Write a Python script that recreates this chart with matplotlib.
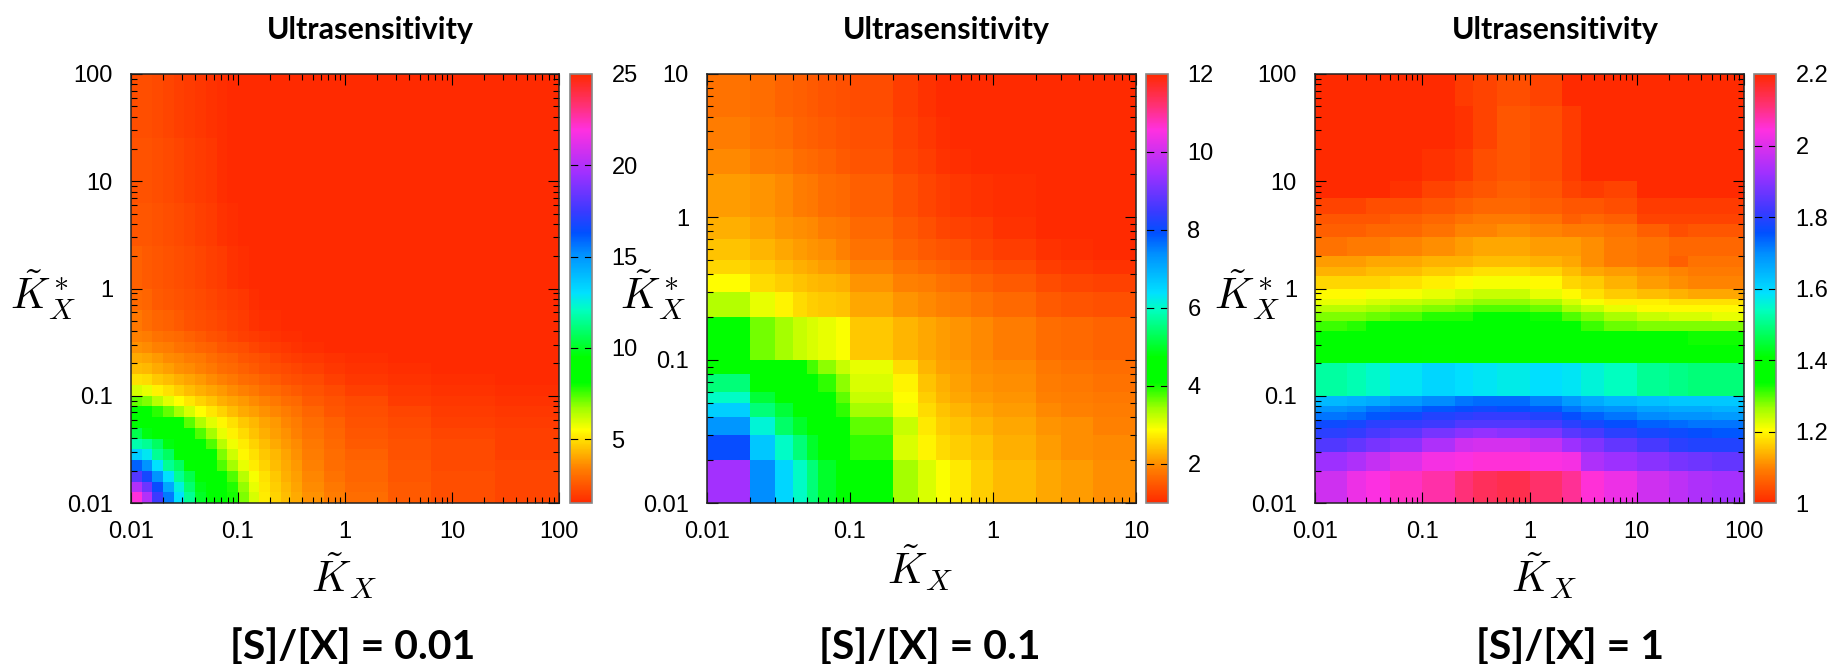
import matplotlib
matplotlib.use("Agg")
import matplotlib.pyplot as plt
from matplotlib.colors import LinearSegmentedColormap
from matplotlib.ticker import LogLocator, NullFormatter

plt.rcParams['font.family'] = ['Liberation Sans', 'DejaVu Sans']
plt.rcParams['mathtext.fontset'] = 'cm'

W, H = 1843, 664

# panel 1, [S]/[X] = 0.01
edges_a = [0.01, 0.0126, 0.0158, 0.02, 0.0251, 0.0316, 0.0398, 0.0501, 0.0631, 0.0794, 0.1, 0.126, 0.158, 0.2, 0.251,
           0.316, 0.398, 0.631, 1, 2.51, 6.31, 25.1, 100]
vals_a = [
    [22, 20, 17.5, 15.5, 13, 11.5, 10, 9.3, 8.8, 7.9, 7, 6, 5.2, 4.8, 4.4, 4.1, 3.7, 3.3, 3, 2.6, 2.3, 2.1],
    [20, 18.5, 16.5, 14.5, 12.5, 11, 9.8, 9.2, 8.7, 7.8, 6.8, 5.8, 5.1, 4.7, 4.3, 4, 3.6, 3.2, 2.9, 2.6, 2.3, 2.1],
    [18, 16.7, 15, 13, 11.5, 10.5, 9.5, 8.8, 8.3, 7.4, 6.4, 5.6, 5, 4.6, 4.2, 3.9, 3.5, 3.1, 2.8, 2.5, 2.3, 2.1],
    [16, 15, 13, 11.5, 10.8, 9.5, 9, 8.6, 7.4, 6.6, 5.8, 5.2, 4.8, 4.4, 4.1, 3.8, 3.4, 3, 2.8, 2.5, 2.2, 2.1],
    [13.5, 12.8, 11.5, 10.8, 9.5, 9, 8.6, 8.2, 7, 6.1, 5.4, 5, 4.6, 4.3, 4, 3.7, 3.3, 3, 2.7, 2.4, 2.2, 2],
    [11.8, 11.5, 10.8, 9.7, 9.2, 8.8, 8.4, 7.4, 6.4, 5.7, 5.2, 4.8, 4.4, 4.1, 3.8, 3.6, 3.2, 2.9, 2.6, 2.4, 2.2, 2],
    [10.5, 9.7, 9.3, 9, 8.7, 8.4, 7.4, 6.6, 5.8, 5.3, 4.9, 4.5, 4.2, 3.9, 3.7, 3.4, 3.1, 2.8, 2.5, 2.3, 2.1, 2],
    [9.5, 9.2, 8.9, 8.6, 8.3, 7.3, 6.5, 5.9, 5.4, 5, 4.6, 4.3, 4, 3.8, 3.5, 3.3, 3, 2.7, 2.4, 2.2, 2, 1.9],
    [8.9, 8.7, 7.7, 7.2, 6.6, 6, 5.5, 5.1, 4.8, 4.4, 4.1, 3.9, 3.7, 3.5, 3.3, 3.1, 2.8, 2.5, 2.3, 2.1, 1.9, 1.8],
    [7.2, 7, 6.4, 5.9, 5.5, 5.1, 4.8, 4.5, 4.2, 4, 3.8, 3.6, 3.4, 3.2, 3, 2.9, 2.6, 2.4, 2.2, 1.9, 1.8, 1.7],
    [6, 5.8, 5.3, 5, 4.7, 4.4, 4.2, 4, 3.8, 3.6, 3.4, 3.2, 3, 2.9, 2.7, 2.6, 2.4, 2.2, 2, 1.8, 1.7, 1.6],
    [5, 4.9, 4.6, 4.4, 4.2, 4, 3.8, 3.6, 3.4, 3.2, 3, 2.9, 2.7, 2.6, 2.4, 2.3, 2.2, 2, 1.8, 1.7, 1.6, 1.5],
    [4.4, 4.3, 4.1, 3.9, 3.7, 3.6, 3.4, 3.2, 3, 2.9, 2.7, 2.6, 2.4, 2.3, 2.2, 2.1, 2, 1.8, 1.7, 1.6, 1.5, 1.5],
    [4.1, 4, 3.8, 3.6, 3.5, 3.3, 3.2, 3, 2.8, 2.7, 2.5, 2.4, 2.3, 2.1, 2, 1.9, 1.8, 1.7, 1.6, 1.5, 1.5, 1.5],
    [3.7, 3.6, 3.4, 3.3, 3.1, 3, 2.8, 2.7, 2.5, 2.4, 2.3, 2.1, 2, 1.9, 1.8, 1.7, 1.6, 1.5, 1.5, 1.5, 1.5, 1.5],
    [3.4, 3.3, 3.1, 3, 2.9, 2.7, 2.6, 2.4, 2.3, 2.1, 2, 1.9, 1.8, 1.7, 1.6, 1.6, 1.5, 1.5, 1.5, 1.5, 1.5, 1.5],
    [3.2, 3, 2.8, 2.7, 2.6, 2.4, 2.3, 2.2, 2.1, 2, 1.9, 1.7, 1.6, 1.6, 1.5, 1.5, 1.5, 1.5, 1.5, 1.5, 1.5, 1.5],
    [2.9, 2.8, 2.6, 2.5, 2.4, 2.3, 2.2, 2.1, 2, 1.9, 1.8, 1.6, 1.5, 1.5, 1.5, 1.5, 1.5, 1.5, 1.5, 1.5, 1.5, 1.5],
    [2.7, 2.6, 2.5, 2.4, 2.3, 2.2, 2.1, 2, 1.9, 1.7, 1.6, 1.5, 1.5, 1.5, 1.5, 1.5, 1.5, 1.5, 1.5, 1.5, 1.5, 1.5],
    [2.5, 2.5, 2.4, 2.3, 2.2, 2.1, 2, 1.9, 1.7, 1.6, 1.5, 1.5, 1.5, 1.5, 1.5, 1.5, 1.5, 1.5, 1.5, 1.5, 1.5, 1.5],
    [2.4, 2.4, 2.3, 2.2, 2.1, 2, 1.9, 1.8, 1.6, 1.5, 1.5, 1.5, 1.5, 1.5, 1.5, 1.5, 1.5, 1.5, 1.5, 1.5, 1.5, 1.5],
    [2.3, 2.3, 2.2, 2.1, 2, 1.9, 1.8, 1.7, 1.6, 1.5, 1.5, 1.5, 1.5, 1.5, 1.5, 1.5, 1.5, 1.5, 1.5, 1.5, 1.5, 1.5],
]

# panel 2, [S]/[X] = 0.1
edges_b = [0.01, 0.02, 0.03, 0.04, 0.05, 0.06, 0.08, 0.1, 0.2, 0.3, 0.4, 0.5, 0.7, 1, 2, 3, 5, 10]
vals_b = [
    [9.5, 7.4, 6.5, 6, 5.5, 5, 4.5, 4.3, 3.4, 3.1, 2.9, 2.7, 2.5, 2.35, 2.2, 2.1, 2],
    [8, 6.7, 6, 5.5, 5, 4.5, 4.3, 3.9, 3.1, 2.8, 2.6, 2.5, 2.4, 2.25, 2.1, 2, 1.95],
    [7.3, 6.1, 5.4, 5, 4.5, 4.3, 4.2, 3.7, 3.2, 2.7, 2.5, 2.4, 2.3, 2.2, 2.05, 2, 1.9],
    [6.6, 5.5, 5.1, 4.5, 4.3, 4.2, 3.9, 3.4, 2.95, 2.6, 2.4, 2.3, 2.2, 2.1, 1.95, 1.9, 1.85],
    [6, 5.1, 4.5, 4.3, 4.2, 4.1, 3.7, 3.2, 2.85, 2.5, 2.3, 2.2, 2.1, 2.05, 1.9, 1.85, 1.8],
    [5.5, 4.5, 4.3, 4.2, 4.1, 3.9, 3.5, 3.1, 2.8, 2.4, 2.25, 2.15, 2.05, 2, 1.85, 1.8, 1.75],
    [4.7, 4.3, 4.2, 4.1, 3.8, 3.5, 3.2, 3, 2.6, 2.3, 2.15, 2.1, 2, 1.95, 1.8, 1.75, 1.7],
    [4.2, 3.6, 3.4, 3.2, 3.1, 3, 2.9, 2.45, 2.3, 2.2, 2.1, 2.05, 1.95, 1.85, 1.7, 1.65, 1.6],
    [3.3, 3, 2.8, 2.6, 2.5, 2.45, 2.4, 2.2, 2.05, 1.95, 1.9, 1.85, 1.75, 1.65, 1.5, 1.45, 1.4],
    [2.85, 2.6, 2.5, 2.4, 2.35, 2.3, 2.25, 2.05, 1.9, 1.85, 1.75, 1.7, 1.6, 1.5, 1.35, 1.3, 1.25],
    [2.55, 2.45, 2.35, 2.25, 2.2, 2.1, 2.05, 1.9, 1.75, 1.65, 1.6, 1.5, 1.45, 1.35, 1.2, 1.15, 1.1],
    [2.4, 2.3, 2.2, 2.1, 2.05, 2, 1.9, 1.75, 1.6, 1.5, 1.45, 1.4, 1.3, 1.2, 1.1, 1.05, 1],
    [2.25, 2.15, 2.05, 2, 1.95, 1.85, 1.8, 1.65, 1.5, 1.4, 1.3, 1.25, 1.2, 1.1, 1, 1, 1],
    [2.1, 2.05, 1.95, 1.85, 1.8, 1.7, 1.65, 1.55, 1.4, 1.3, 1.2, 1.15, 1.1, 1.05, 1, 1, 1],
    [1.95, 1.85, 1.8, 1.7, 1.65, 1.6, 1.5, 1.45, 1.3, 1.2, 1.1, 1.05, 1, 1, 1, 1, 1],
    [1.85, 1.75, 1.7, 1.6, 1.55, 1.5, 1.45, 1.4, 1.25, 1.15, 1.05, 1, 1, 1, 1, 1, 1],
    [1.75, 1.7, 1.6, 1.55, 1.5, 1.45, 1.4, 1.35, 1.2, 1.1, 1, 1, 1, 1, 1, 1, 1],
]

# panel 3, [S]/[X] = 1
xedges_c = [0.01, 0.02, 0.03, 0.05, 0.1, 0.2, 0.3, 0.5, 1, 2, 3, 5, 10, 20, 30, 50, 100]
yedges_c = [0.01, 0.02, 0.03, 0.04, 0.05, 0.06, 0.07, 0.08, 0.1, 0.2, 0.3, 0.4, 0.5, 0.6, 0.7, 0.8, 1, 1.3, 1.6, 2,
            3, 4, 5, 7, 10, 20, 50, 100]
vals_c = [
    [1.98, 2.02, 2.04, 2.06, 2.08, 2.11, 2.13, 2.14, 2.12, 2.09, 2.05, 2.02, 1.98, 1.96, 1.94, 1.93],
    [1.92, 1.94, 1.97, 2, 2.03, 2.04, 2.05, 2.05, 2.04, 2.03, 1.94, 1.92, 1.9, 1.88, 1.87, 1.86],
    [1.84, 1.86, 1.88, 1.9, 1.94, 1.98, 1.99, 1.99, 1.97, 1.92, 1.89, 1.86, 1.83, 1.8, 1.79, 1.79],
    [1.8, 1.81, 1.83, 1.85, 1.88, 1.9, 1.91, 1.9, 1.89, 1.85, 1.83, 1.8, 1.78, 1.77, 1.76, 1.75],
    [1.77, 1.78, 1.8, 1.81, 1.82, 1.84, 1.84, 1.84, 1.83, 1.8, 1.78, 1.76, 1.74, 1.73, 1.72, 1.72],
    [1.72, 1.73, 1.75, 1.77, 1.79, 1.8, 1.81, 1.81, 1.79, 1.76, 1.74, 1.72, 1.7, 1.69, 1.69, 1.68],
    [1.69, 1.7, 1.72, 1.73, 1.75, 1.76, 1.77, 1.76, 1.75, 1.72, 1.7, 1.69, 1.67, 1.66, 1.66, 1.65],
    [1.64, 1.65, 1.66, 1.68, 1.7, 1.72, 1.73, 1.73, 1.71, 1.68, 1.66, 1.64, 1.63, 1.62, 1.62, 1.62],
    [1.52, 1.53, 1.55, 1.58, 1.6, 1.59, 1.58, 1.57, 1.59, 1.58, 1.56, 1.54, 1.51, 1.5, 1.49, 1.49],
    [1.37, 1.37, 1.37, 1.38, 1.41, 1.4, 1.4, 1.4, 1.4, 1.39, 1.38, 1.37, 1.36, 1.36, 1.36, 1.36],
    [1.36, 1.36, 1.36, 1.36, 1.36, 1.36, 1.36, 1.36, 1.36, 1.36, 1.36, 1.36, 1.36, 1.36, 1.33, 1.33],
    [1.31, 1.32, 1.34, 1.35, 1.36, 1.36, 1.36, 1.36, 1.36, 1.34, 1.31, 1.29, 1.28, 1.28, 1.28, 1.28],
    [1.28, 1.28, 1.29, 1.3, 1.32, 1.32, 1.34, 1.34, 1.33, 1.3, 1.28, 1.26, 1.24, 1.23, 1.23, 1.22],
    [1.25, 1.25, 1.26, 1.27, 1.28, 1.29, 1.3, 1.3, 1.29, 1.26, 1.24, 1.22, 1.2, 1.2, 1.2, 1.2],
    [1.22, 1.22, 1.23, 1.24, 1.25, 1.26, 1.27, 1.27, 1.26, 1.23, 1.21, 1.19, 1.19, 1.18, 1.18, 1.18],
    [1.2, 1.2, 1.21, 1.21, 1.22, 1.23, 1.24, 1.24, 1.22, 1.2, 1.18, 1.16, 1.15, 1.14, 1.13, 1.13],
    [1.17, 1.17, 1.17, 1.18, 1.19, 1.2, 1.21, 1.21, 1.2, 1.17, 1.16, 1.14, 1.12, 1.11, 1.1, 1.1],
    [1.14, 1.14, 1.15, 1.15, 1.16, 1.17, 1.18, 1.18, 1.17, 1.15, 1.13, 1.12, 1.11, 1.1, 1.09, 1.09],
    [1.12, 1.12, 1.13, 1.13, 1.14, 1.14, 1.15, 1.15, 1.14, 1.13, 1.11, 1.09, 1.08, 1.06, 1.08, 1.08],
    [1.08, 1.09, 1.09, 1.1, 1.11, 1.12, 1.13, 1.13, 1.12, 1.12, 1.11, 1.09, 1.08, 1.07, 1.07, 1.07],
    [1.06, 1.06, 1.07, 1.07, 1.08, 1.1, 1.1, 1.11, 1.1, 1.09, 1.09, 1.08, 1.06, 1.04, 1.05, 1.05],
    [1.05, 1.05, 1.05, 1.06, 1.07, 1.08, 1.09, 1.09, 1.08, 1.06, 1.07, 1.06, 1.03, 1.03, 1.03, 1.03],
    [1.03, 1.03, 1.04, 1.04, 1.05, 1.06, 1.07, 1.07, 1.06, 1.05, 1.05, 1.04, 1.02, 1.02, 1.02, 1.02],
    [1, 1, 1, 1.01, 1.03, 1.04, 1.05, 1.06, 1.05, 1.03, 1.02, 1.03, 1, 1, 1, 1],
    [1, 1, 1, 1, 1.01, 1.02, 1.04, 1.05, 1.04, 1.02, 1, 1, 1, 1, 1, 1],
    [1, 1, 1, 1, 1, 1.01, 1.03, 1.05, 1.04, 1.02, 1, 1, 1, 1, 1, 1],
    [1, 1, 1, 1, 1, 1.02, 1.03, 1.04, 1.03, 1, 1, 1, 1, 1, 1, 1],
]

ticks_a = [0.01, 0.1, 1, 10, 100]
ticks_b = [0.01, 0.1, 1, 10]
labels_a = ["0.01", "0.1", "1", "10", "100"]
labels_b = ["0.01", "0.1", "1", "10"]

cb_ticks_a = [5, 10, 15, 20, 25]
cb_ticks_b = [2, 4, 6, 8, 10, 12]
cb_ticks_c = [1, 1.2, 1.4, 1.6, 1.8, 2, 2.2]
cb_labels_c = ["1", "1.2", "1.4", "1.6", "1.8", "2", "2.2"]

bottom_labels = ["[S]/[X] = 0.01", "[S]/[X] = 0.1", "[S]/[X] = 1"]

rainbow = LinearSegmentedColormap.from_list("rainbow_gp", [
    (0, "#ff2a00"), (0.08, "#ff8000"), (0.17, "#ffff00"), (0.22, "#a0ff00"), (0.28, "#00ff00"), (0.34, "#00ff00"),
    (0.45, "#00ffc0"), (0.49, "#00e0ff"), (0.58, "#0090ff"), (0.63, "#0050ff"), (0.68, "#3a3aff"), (0.77, "#a030ff"),
    (0.87, "#ff30e0"), (0.93, "#ff3070"), (1, "#ff2a00")], N=512)


def box(x0, x1):
    return [x0 / W, 1 - 503 / H, (x1 - x0) / W, 429 / H]


def ptext(x, y, s, **kw):
    fig.text(x / W, 1 - y / H, s, ha="center", va="center", **kw)


def panel(xedges, yedges, vals, vmin, vmax, ticks, labels, cb_ticks, cb_labels, ax_px, cb_px, dash_ticks):
    ax = fig.add_axes(box(*ax_px))
    m = ax.pcolormesh(xedges, yedges, vals, cmap=rainbow, vmin=vmin, vmax=vmax, shading="flat", antialiased=False)
    ax.set_xscale("log")
    ax.set_yscale("log")
    ax.set_xlim(xedges[0], xedges[-1])
    ax.set_ylim(yedges[0], yedges[-1])
    for axis in (ax.xaxis, ax.yaxis):
        axis.set_major_locator(LogLocator(base=10, numticks=10))
        axis.set_minor_locator(LogLocator(base=10, subs=range(2, 10), numticks=10))
        axis.set_minor_formatter(NullFormatter())
    ax.set_xticks(ticks, labels)
    ax.set_yticks(ticks, labels)
    ax.tick_params(which="major", direction="in", top=True, right=True, length=8, width=0.8, labelsize=17)
    ax.tick_params(which="minor", direction="in", top=True, right=True, length=4.5, width=0.8)
    ax.tick_params(axis="x", which="major", pad=13)
    ax.tick_params(axis="y", which="major", pad=13)
    for s in ax.spines.values():
        s.set_color("#222222")
        s.set_linewidth(1.1)

    cax = fig.add_axes(box(*cb_px))
    cb = fig.colorbar(m, cax=cax, ticks=cb_ticks)
    cb.set_ticklabels(cb_labels)
    cb.ax.tick_params(length=0, labelsize=17, pad=14)
    cb.ax.hlines(dash_ticks, 0, 1, colors="black", linewidth=0.8, linestyles=(0, (7, 6)))
    cb.outline.set_edgecolor("#888888")
    cb.outline.set_linewidth(1.2)


fig = plt.figure(figsize=(W / 100, H / 100), dpi=100)

panel(edges_a, edges_a, vals_a, 1.5, 25, ticks_a, labels_a, cb_ticks_a, [str(t) for t in cb_ticks_a],
      (131, 559), (570, 592), cb_ticks_a[:-1])
panel(edges_b, edges_b, vals_b, 1, 12, ticks_b, labels_b, cb_ticks_b, [str(t) for t in cb_ticks_b],
      (707, 1136), (1146, 1168), cb_ticks_b[:-1])
panel(xedges_c, yedges_c, vals_c, 1, 2.2, ticks_a, labels_a, cb_ticks_c, cb_labels_c,
      (1315, 1744), (1754, 1776), cb_ticks_c[1:-1])

for x in (370, 946, 1555):
    ptext(x, 30, "Ultrasensitivity", family="Lato", fontweight="bold", fontsize=22)
for x, s in zip((353, 930, 1570), bottom_labels):
    ptext(x, 647, s, family="Lato", fontweight="bold", fontsize=29.5)
for x, y in ((344, 576), (920, 568), (1544, 576)):
    ptext(x, y, r"$\tilde{K}_X$", fontsize=31)
for x in (43, 653, 1247):
    ptext(x, 295, r"$\tilde{K}^*_X$", fontsize=31)

fig.savefig("out.png", dpi=100)
